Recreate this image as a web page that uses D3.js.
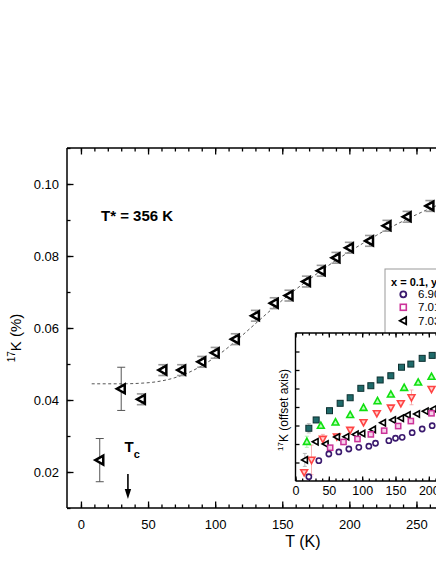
<!DOCTYPE html>
<html>
<head>
<meta charset="utf-8">
<script src="https://cdn.jsdelivr.net/npm/d3@7"></script>
<style>
  body { margin: 0; background: #fff; }
  svg { display: block; font-family: "Liberation Sans", Arial, sans-serif; }
</style>
</head>
<body>
<svg width="436" height="564"></svg>
<script>
// main panel: 17O Knight shift vs T, y = 7.03 sample
var mainT = [14, 30, 45, 61, 75, 90, 100, 115, 130, 144, 155, 168, 179, 190, 200, 215, 228, 243, 260];
var mainK = [0.0233, 0.0431, 0.0402, 0.0483, 0.0483, 0.0506, 0.0531, 0.0569, 0.0634, 0.0669, 0.0690, 0.0729, 0.0759, 0.0795, 0.0823, 0.0842, 0.0884, 0.0909, 0.0939];
var mainErr = [0.006, 0.006, 0.0015, 0.0015, 0.0015, 0.0015, 0.0015, 0.0015, 0.0015, 0.0015, 0.0015, 0.0015, 0.0015, 0.0015, 0.0015, 0.0015, 0.0015, 0.0015, 0.0015];

// dashed fit
var fitT = [8, 30, 50, 60, 70, 80, 90, 100, 110, 120, 130, 140, 150, 160, 170, 180, 190, 200, 210, 220, 230, 240, 250, 260, 270];
var fitK = [0.0445, 0.0445, 0.0448, 0.0453, 0.0462, 0.0476, 0.0495, 0.0519, 0.0547, 0.0579, 0.0612, 0.0645, 0.0677, 0.0707, 0.0735, 0.0762, 0.0788, 0.0812, 0.0835, 0.0857, 0.0878, 0.0897, 0.0915, 0.0932, 0.0948];

var xTicks = [0, 50, 100, 150, 200, 250];
var yTicks = [0.02, 0.04, 0.06, 0.08, 0.10];

// inset: offset curves for several y (arbitrary units)
var purpleT = [20, 35, 50, 65, 80, 95, 110, 120, 140, 150, 160, 175, 190, 205];
var purpleK = [0.23, 1.10, 1.46, 1.57, 1.73, 1.82, 1.88, 2.04, 2.18, 2.31, 2.36, 2.61, 2.81, 2.99];
var magentaT = [52, 72, 93, 113, 133, 154, 173, 204];
var magentaK = [1.80, 2.11, 2.27, 2.52, 2.72, 2.97, 3.24, 3.66];
var blackT = [14, 30, 45, 62, 76, 90, 100, 116, 131, 146, 158, 168, 182, 195, 207];
var blackK = [1.14, 2.12, 2.00, 2.38, 2.39, 2.52, 2.57, 2.79, 3.15, 3.30, 3.39, 3.57, 3.62, 3.77, 3.89];
var redT = [13, 24, 41, 62, 82, 102, 122, 143, 158, 174, 204];
var redK = [0.47, 1.14, 2.27, 2.40, 2.76, 3.17, 3.66, 3.96, 4.20, 4.52, 4.97];
var greenT = [17, 38, 60, 82, 102, 123, 143, 163, 184, 204];
var greenK = [2.12, 2.99, 3.17, 3.57, 3.96, 4.32, 4.68, 5.04, 5.33, 5.64];
var tealT = [20, 31, 51, 67, 82, 98, 113, 127, 143, 159, 173, 190, 205];
var tealK = [2.85, 3.30, 3.80, 4.20, 4.50, 5.01, 5.15, 5.46, 5.69, 6.15, 6.32, 6.63, 6.79];

var legendLabels = ["6.90", "7.01", "7.03"];

var svg = d3.select("svg");

var x = d3.scaleLinear().domain([-10.4, 300]).range([67, 67 + 310.4 * 1.342]);
var y = d3.scaleLinear().domain([0.01, 0.11]).range([508, 148]);

// frame
svg.append("line").attr("x1", 67).attr("x2", 436).attr("y1", 148).attr("y2", 148).attr("stroke", "#000").attr("stroke-width", 1.5);
svg.append("line").attr("x1", 67).attr("x2", 436).attr("y1", 508).attr("y2", 508).attr("stroke", "#000").attr("stroke-width", 1.5);
svg.append("line").attr("x1", 67).attr("x2", 67).attr("y1", 148).attr("y2", 508).attr("stroke", "#000").attr("stroke-width", 1.5);

function inTicks(g) {
  g.selectAll(".domain").remove();
  g.selectAll("line").attr("stroke", "#000").attr("stroke-width", 1.3);
}

// bottom axis, inward ticks
var bx = svg.append("g").attr("transform", "translate(0,508)")
  .call(d3.axisBottom(x).tickValues(d3.range(0, 301, 10)).tickSize(-3.5).tickFormat(""));
inTicks(bx);
var bxMaj = svg.append("g").attr("transform", "translate(0,508)")
  .call(d3.axisBottom(x).tickValues(xTicks).tickSize(-6.5).tickPadding(12).tickFormat(d3.format("d")));
inTicks(bxMaj);
bxMaj.selectAll("text").attr("font-size", 13).attr("fill", "#000").attr("font-family", "Liberation Sans, Arial");

var tx = svg.append("g").attr("transform", "translate(0,148)")
  .call(d3.axisTop(x).tickValues(d3.range(0, 301, 10)).tickSize(-3.5).tickFormat(""));
inTicks(tx);
var txMaj = svg.append("g").attr("transform", "translate(0,148)")
  .call(d3.axisTop(x).tickValues(xTicks).tickSize(-6.5).tickFormat(""));
inTicks(txMaj);

var ly = svg.append("g").attr("transform", "translate(67,0)")
  .call(d3.axisLeft(y).tickValues(d3.range(0.01, 0.1101, 0.01)).tickSize(-3.5).tickFormat(""));
inTicks(ly);
var lyMaj = svg.append("g").attr("transform", "translate(67,0)")
  .call(d3.axisLeft(y).tickValues(yTicks).tickSize(-6.5).tickPadding(8).tickFormat(d3.format(".2f")));
inTicks(lyMaj);
lyMaj.selectAll("text").attr("font-size", 13).attr("fill", "#000").attr("font-family", "Liberation Sans, Arial");

// axis titles
svg.append("text").attr("x", 303).attr("y", 547).attr("text-anchor", "middle")
  .attr("font-size", 16).text("T (K)");
var yl = svg.append("text").attr("transform", "translate(21,338) rotate(-90)")
  .attr("text-anchor", "middle").attr("font-size", 15);
yl.append("tspan").attr("font-size", 10).attr("dy", -6).text("17");
yl.append("tspan").attr("dy", 6).text("K (%)");

// fit curve
var line = d3.line().x(function(d, i) { return x(fitT[i]); }).y(function(d) { return y(d); }).curve(d3.curveMonotoneX);
svg.append("path").datum(fitK).attr("d", line).attr("fill", "none")
  .attr("stroke", "#444").attr("stroke-width", 0.9).attr("stroke-dasharray", "3,2.5");

// error bars
var eb = svg.append("g").attr("stroke-width", 1);
mainK.forEach(function(k, i) {
  var cx = x(mainT[i]), e = mainErr[i];
  var cap = e > 0.002 ? 4 : 4.5;
  var c = e > 0.002 ? "#555" : "#999";
  var w = e > 0.002 ? 1 : 1.6;
  eb.append("line").attr("x1", cx).attr("x2", cx).attr("y1", y(k + e)).attr("y2", y(k - e)).attr("stroke", c);
  eb.append("line").attr("x1", cx - cap).attr("x2", cx + cap).attr("y1", y(k + e)).attr("y2", y(k + e)).attr("stroke", c).attr("stroke-width", w);
  eb.append("line").attr("x1", cx - cap).attr("x2", cx + cap).attr("y1", y(k - e)).attr("y2", y(k - e)).attr("stroke", c).attr("stroke-width", w);
});

function leftTri(s) {
  return "M" + (-s) + ",0L" + (s * 0.8) + "," + (-s) + "L" + (s * 0.8) + "," + s + "Z";
}

svg.append("g").selectAll("path").data(mainK).enter().append("path")
  .attr("d", leftTri(4.4))
  .attr("transform", function(d, i) { return "translate(" + x(mainT[i]) + "," + y(d) + ")"; })
  .attr("fill", "#fff").attr("stroke", "#000").attr("stroke-width", 2.5).attr("stroke-linejoin", "miter");

// labels
svg.append("text").attr("x", 101).attr("y", 221).attr("font-size", 15).attr("font-weight", "bold").text("T* = 356 K");
var tc = svg.append("text").attr("x", 124.5).attr("y", 452).attr("font-size", 15).attr("font-weight", "bold");
tc.append("tspan").text("T");
tc.append("tspan").attr("font-size", 11).attr("dy", 6).text("c");
svg.append("line").attr("x1", x(35)).attr("x2", x(35)).attr("y1", 474).attr("y2", 491).attr("stroke", "#000").attr("stroke-width", 1.6);
svg.append("path").attr("d", "M" + (x(35) - 3.2) + ",489L" + (x(35) + 3.2) + ",489L" + x(35) + ",499Z").attr("fill", "#000");

// legend box (partly hidden by inset, cut at the right edge like the source)
svg.append("rect").attr("x", 385).attr("y", 269).attr("width", 80).attr("height", 80)
  .attr("fill", "#fff").attr("stroke", "#999").attr("stroke-width", 1);
svg.append("text").attr("x", 391).attr("y", 285.5).attr("font-size", 11).attr("font-weight", "bold").text("x = 0.1, y");
var legY = [294.3, 307.3, 320.7];
svg.append("circle").attr("cx", 403.3).attr("cy", legY[0]).attr("r", 3).attr("fill", "none").attr("stroke", "#3b1a6e").attr("stroke-width", 1.8);
svg.append("rect").attr("x", 400.3).attr("y", legY[1] - 3).attr("width", 6).attr("height", 6).attr("fill", "none").attr("stroke", "#cc3399").attr("stroke-width", 1.6);
svg.append("path").attr("d", leftTri(3.6)).attr("transform", "translate(403.3," + legY[2] + ")")
  .attr("fill", "#fff").attr("stroke", "#000").attr("stroke-width", 1.8);
legendLabels.forEach(function(t, i) {
  svg.append("text").attr("x", 418).attr("y", legY[i] + 4).attr("font-size", 11.5).text(t);
});

// inset
var ix = d3.scaleLinear().domain([0, 300]).range([295.5, 295.5 + 300 * 0.6667]);
var iy = d3.scaleLinear().domain([0, 8]).range([481, 333]);
var inset = svg.append("g");
inset.append("rect").attr("x", 295.5).attr("y", 333).attr("width", 200).attr("height", 148).attr("fill", "#fff");
inset.append("line").attr("x1", 295.5).attr("x2", 436).attr("y1", 333).attr("y2", 333).attr("stroke", "#000").attr("stroke-width", 1.4);
inset.append("line").attr("x1", 295.5).attr("x2", 436).attr("y1", 481).attr("y2", 481).attr("stroke", "#000").attr("stroke-width", 1.4);
inset.append("line").attr("x1", 295.5).attr("x2", 295.5).attr("y1", 333).attr("y2", 481).attr("stroke", "#000").attr("stroke-width", 1.4);

var ib = inset.append("g").attr("transform", "translate(0,481)")
  .call(d3.axisBottom(ix).tickValues(d3.range(0, 301, 10)).tickSize(-2.5).tickFormat(""));
inTicks(ib);
var ibMaj = inset.append("g").attr("transform", "translate(0,481)")
  .call(d3.axisBottom(ix).tickValues([0, 50, 100, 150, 200, 250]).tickSize(-4.5).tickPadding(5).tickFormat(d3.format("d")));
inTicks(ibMaj);
ibMaj.selectAll("text").attr("font-size", 12.5).attr("fill", "#000").attr("font-family", "Liberation Sans, Arial");
var it = inset.append("g").attr("transform", "translate(0,333)")
  .call(d3.axisTop(ix).tickValues(d3.range(0, 301, 10)).tickSize(-2.5).tickFormat(""));
inTicks(it);
var itMaj = inset.append("g").attr("transform", "translate(0,333)")
  .call(d3.axisTop(ix).tickValues([0, 50, 100, 150, 200, 250]).tickSize(-4.5).tickFormat(""));
inTicks(itMaj);
var il = inset.append("g").attr("transform", "translate(295.5,0)")
  .call(d3.axisLeft(iy).tickValues(d3.range(1, 8)).tickSize(-4).tickFormat(""));
inTicks(il);

var iyl = inset.append("text").attr("transform", "translate(288,410) rotate(-90)")
  .attr("text-anchor", "middle").attr("font-size", 12);
iyl.append("tspan").attr("font-size", 8).attr("dy", -5).text("17");
iyl.append("tspan").attr("dy", 5).text("K (offset axis)");

// a few inset error bars (light)
function ierr(T, k, e, c) {
  var g = inset.append("g").attr("stroke", c).attr("stroke-width", 0.8);
  g.append("line").attr("x1", ix(T)).attr("x2", ix(T)).attr("y1", iy(k + e)).attr("y2", iy(k - e));
  g.append("line").attr("x1", ix(T) - 2).attr("x2", ix(T) + 2).attr("y1", iy(k + e)).attr("y2", iy(k + e));
  g.append("line").attr("x1", ix(T) - 2).attr("x2", ix(T) + 2).attr("y1", iy(k - e)).attr("y2", iy(k - e));
}
ierr(redT[1], redK[1], 0.8, "#f5a0a0");
ierr(blackT[0], blackK[0], 0.35, "#aaa");
ierr(greenT[0], greenK[0], 0.3, "#a0f0a0");
ierr(tealT[0], tealK[0], 0.25, "#aaa");
ierr(redT[9], redK[9], 0.4, "#f5a0a0");
ierr(redT[2], redK[2], 0.25, "#f5a0a0");

function pts(T, K, draw) {
  var g = inset.append("g");
  K.forEach(function(k, i) { draw(g, ix(T[i]), iy(k)); });
}
pts(tealT, tealK, function(g, cx, cy) {
  g.append("rect").attr("x", cx - 3).attr("y", cy - 3).attr("width", 6).attr("height", 6)
    .attr("fill", "#1f6a6a").attr("stroke", "#0d3030").attr("stroke-width", 1);
});
pts(greenT, greenK, function(g, cx, cy) {
  g.append("path").attr("d", "M" + cx + "," + (cy - 3.6) + "L" + (cx + 3.4) + "," + (cy + 2.6) + "L" + (cx - 3.4) + "," + (cy + 2.6) + "Z")
    .attr("fill", "#b8ffb8").attr("stroke", "#10e010").attr("stroke-width", 1.6);
});
pts(redT, redK, function(g, cx, cy) {
  g.append("path").attr("d", "M" + cx + "," + (cy + 3.6) + "L" + (cx + 3.4) + "," + (cy - 2.6) + "L" + (cx - 3.4) + "," + (cy - 2.6) + "Z")
    .attr("fill", "#ffd0d0").attr("stroke", "#ff4444").attr("stroke-width", 1.6);
});
pts(blackT, blackK, function(g, cx, cy) {
  g.append("path").attr("d", leftTri(3.2)).attr("transform", "translate(" + cx + "," + cy + ")")
    .attr("fill", "#fff").attr("stroke", "#000").attr("stroke-width", 1.6);
});
pts(magentaT, magentaK, function(g, cx, cy) {
  g.append("rect").attr("x", cx - 2.6).attr("y", cy - 2.6).attr("width", 5.2).attr("height", 5.2)
    .attr("fill", "#f6d0ea").attr("stroke", "#cc3399").attr("stroke-width", 1.5);
});
pts(purpleT, purpleK, function(g, cx, cy) {
  g.append("circle").attr("cx", cx).attr("cy", cy).attr("r", 2.6)
    .attr("fill", "#fff").attr("stroke", "#3b1a6e").attr("stroke-width", 1.6);
});
</script>
</body>
</html>
